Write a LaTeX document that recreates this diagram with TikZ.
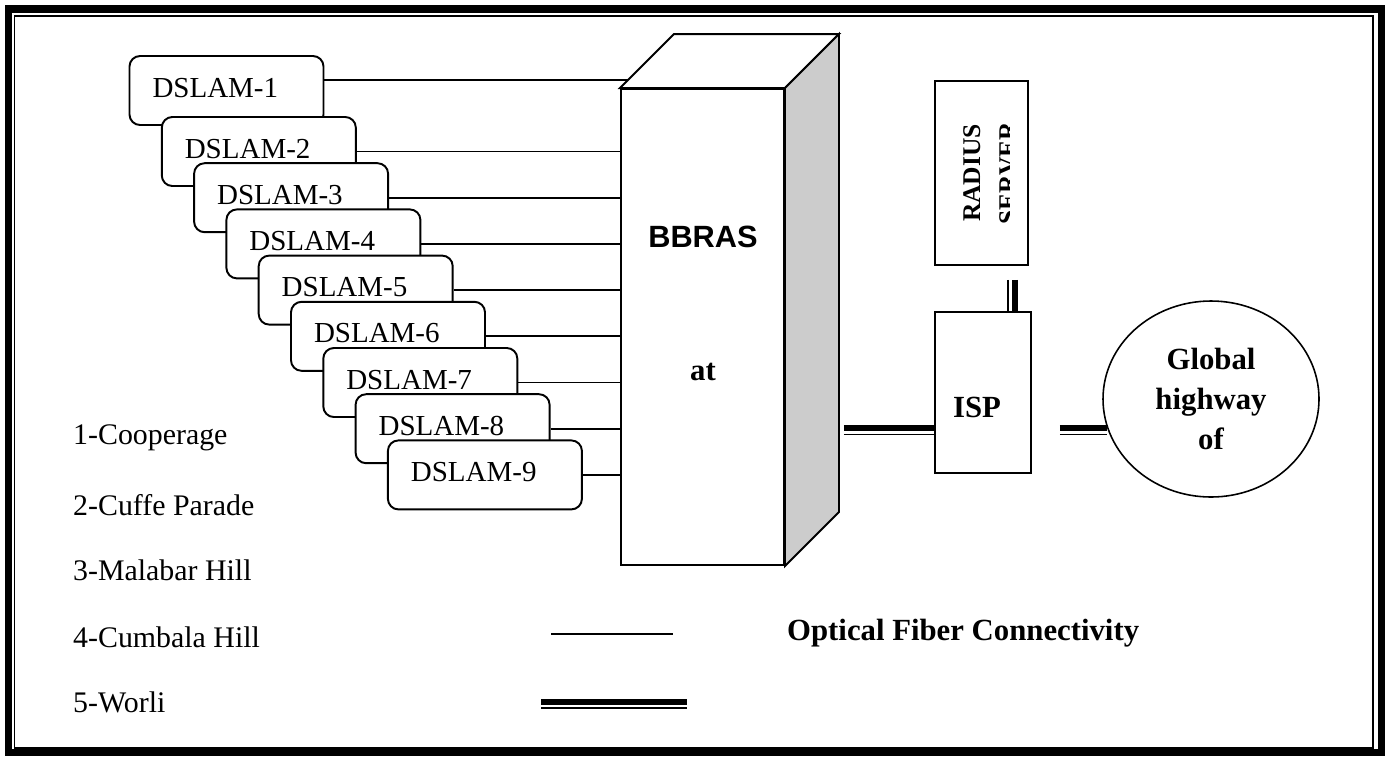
\documentclass[tikz,border=0pt]{standalone}
\usepackage{fontspec}
\setmainfont{Liberation Serif}
\newfontfamily\arialfont{Liberation Sans}
\usetikzlibrary{positioning,calc,shapes.geometric}
\definecolor{ink}{RGB}{0,0,0}
\definecolor{sidegrey}{RGB}{204,204,204}
\tikzset{
	fiber/.style={line width=1.1pt,draw=ink},
	trunk/.style={line width=3.4pt,draw=ink,
		postaction={draw=ink,line width=0.9pt,transform canvas={yshift=-0.13cm}}},
	trunkv/.style={line width=3.4pt,draw=ink,
		postaction={draw=ink,line width=0.9pt,transform canvas={xshift=-0.14cm}}},
	dslam/.style={draw=ink,line width=1.1pt,fill=white,rounded corners=6pt,
		text width=2.96cm,inner xsep=0.46cm,minimum height=1.38cm,align=left,
		text depth=0.12cm,font=\fontsize{16.5}{19}\selectfont,text=ink},
	unit/.style={draw=ink,line width=1.1pt,fill=white,inner sep=0pt},
	site/.style={anchor=west,font=\fontsize{17}{20}\selectfont,text=ink},
	tag/.style={font=\fontsize{17.5}{21}\selectfont\bfseries,text=ink},
}

\begin{document}
\begin{tikzpicture}
	\useasboundingbox (0,0) rectangle (27.78,-15.12);
	\draw[draw=ink,line width=4pt] (0.166,-0.18) rectangle (27.62,-15.04);
	\draw[draw=ink,line width=0.9pt] (0.29,-0.32) rectangle (27.46,-14.96);
	
	\node[dslam] (d1) at (4.530,-1.810) {DSLAM-1};
	\node[dslam] (d2) at (5.176,-3.030) {DSLAM-2};
	\node[dslam] (d3) at (5.822,-3.954) {DSLAM-3};
	\node[dslam] (d4) at (6.468,-4.878) {DSLAM-4};
	\node[dslam] (d5) at (7.114,-5.802) {DSLAM-5};
	\node[dslam] (d6) at (7.760,-6.726) {DSLAM-6};
	\node[dslam] (d7) at (8.406,-7.650) {DSLAM-7};
	\node[dslam] (d8) at (9.052,-8.574) {DSLAM-8};
	\node[dslam] (d9) at (9.698,-9.498) {DSLAM-9};
	
	\node[unit,minimum width=3.26cm,minimum height=9.52cm] (bbras) at (14.05,-6.54) {};
	\coordinate (btl) at ($(bbras.north west)+(1.08,1.08)$);
	\coordinate (btr) at ($(bbras.north east)+(1.08,1.08)$);
	\coordinate (bbr) at ($(bbras.south east)+(1.08,1.08)$);
	% top and side faces give the rack its depth
	\draw[fiber,fill=white] (bbras.north west) -- (btl) -- (btr) -- (bbras.north east) -- cycle;
	\draw[fiber,fill=sidegrey] (bbras.north east) -- (btr) -- (bbr) -- (bbras.south east) -- cycle;
	\node[font=\arialfont\fontsize{17.5}{21}\selectfont\bfseries,text=ink] (bbrasname)
	at (14.06,-4.74) {BBRAS};
	\node[tag] (bbrasat) at (14.06,-7.44) {at};
	
	\node[unit,minimum width=1.86cm,minimum height=3.68cm] (radius) at (19.63,-3.46) {};
	\begin{scope}
		\clip (radius.north west) rectangle ($(radius.south west)+(1.5,0)$);
		\node[rotate=90,anchor=north,inner sep=0pt,align=center,text=ink,
		font=\fontsize{14.5}{20.4}\selectfont\bfseries] (radiustext) at (19.26,-3.46)
		{RADIUS\\SERVER};
	\end{scope}
	
	\node[unit,minimum width=1.92cm,minimum height=3.22cm] (isp) at (19.66,-7.85) {};
	\node[tag] (ispname) at ($(isp.center)+(-0.12,-0.29)$) {ISP};
	
	\node[ellipse,draw=ink,line width=0.9pt,minimum width=4.32cm,minimum height=3.92cm,
	inner sep=0pt,align=center,text=ink,font=\fontsize{17.5}{22.7}\selectfont\bfseries]
	(globe) at (24.22,-7.98) {Global\\highway\\of};
	
	\coordinate (dtop) at ($(bbras.north west)!0.15!(btl)$);
	\draw[fiber] (dtop -| d1.east) -- (dtop);
	\draw[fiber] (d2.east) -- (d2.east -| bbras.west);
	\draw[fiber] (d3.east) -- (d3.east -| bbras.west);
	\draw[fiber] (d4.east) -- (d4.east -| bbras.west);
	\draw[fiber] (d5.east) -- (d5.east -| bbras.west);
	\draw[fiber] (d6.east) -- (d6.east -| bbras.west);
	\draw[fiber] (d7.east) -- (d7.east -| bbras.west);
	\draw[fiber] (d8.east) -- (d8.east -| bbras.west);
	\draw[fiber] (d9.east) -- (d9.east -| bbras.west);
	
	\coordinate (ispin) at ($(isp.west)+(0,-0.71)$);
	\coordinate (bbrasport) at ($(bbras.east)+(1.18,0)$);
	\draw[trunk] (bbrasport |- ispin) -- (ispin);
	\coordinate (ispout) at ($(ispin -| isp.east)+(0.56,0)$);
	\draw[trunk] (ispout) -- (ispout -| globe.196);
	\coordinate (radiusport) at ($(radius.south east)+(-0.28,-0.28)$);
	\draw[trunkv] (radiusport) -- (radiusport |- isp.north);
	
	\node[site] (site1) at (1.34,-8.76) {1-Cooperage};
	\node[site] (site2) at (1.34,-10.10) {2-Cuffe Parade};
	\node[site] (site3) at (1.34,-11.40) {3-Malabar Hill};
	\node[site] (site4) at (1.34,-12.74) {4-Cumbala Hill};
	\node[site] (site5) at (1.34,-14.04) {5-Worli};
	
	\coordinate (thinkeyA) at (11.02,-12.68);
	\coordinate (thinkeyB) at (13.46,-12.68);
	\draw[fiber] (thinkeyA) -- (thinkeyB);
	\node[tag,anchor=west] (fiberkey) at (15.62,-12.66) {Optical Fiber Connectivity};
	\coordinate (trunkkeyA) at (10.82,-14.03);
	\coordinate (trunkkeyB) at (13.74,-14.03);
	\draw[trunk] (trunkkeyA) -- (trunkkeyB);
	
\end{tikzpicture}
\end{document}
